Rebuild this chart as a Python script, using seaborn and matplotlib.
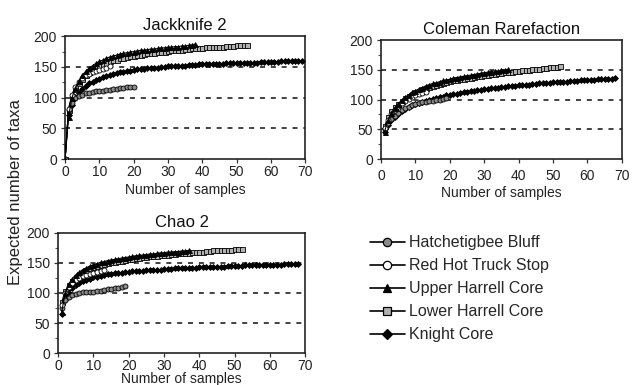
import numpy as np
import pandas as pd
import matplotlib
matplotlib.use("Agg")
import matplotlib.pyplot as plt
import seaborn as sns
from matplotlib.lines import Line2D

sns.set_style("ticks")
plt.rcParams['font.family'] = ['Liberation Sans', 'DejaVu Sans']

series_names = ["Hatchetigbee Bluff", "Red Hot Truck Stop", "Upper Harrell Core",
                "Lower Harrell Core", "Knight Core"]
panel_titles = ["Jackknife 2", "Coleman Rarefaction", "Chao 2"]

# ---- Jackknife 2 (starts at sample 0) ----
jk_hatch = [0, 80, 92, 99, 103, 105, 107, 108, 109, 110, 110, 111, 112, 113, 114, 114, 115, 116, 117, 117, 118]
jk_red = [0, 82, 105, 118, 126, 132, 136, 139, 141, 143, 145, 147, 149, 151]
jk_upper = [0, 68, 100, 115, 127, 136, 143, 148, 152, 156, 159, 161, 164, 166, 168, 169, 171, 172, 173, 174,
            175, 176, 177, 177, 178, 179, 179, 180, 181, 181, 182, 182, 183, 183, 184, 184, 185, 186, 187]
jk_lower = [0, 80, 102, 114, 124, 131, 137, 142, 146, 149, 152, 155, 157, 159, 161, 162, 164, 165, 166, 167,
            168, 169, 170, 171, 172, 172, 173, 174, 175, 175, 176, 177, 177, 178, 178, 179, 179, 180, 180, 181,
            181, 182, 182, 182, 183, 183, 183, 184, 184, 184, 185, 185, 185, 186]
jk_knight = [0, 72, 88, 100, 108, 114, 119, 123, 126, 129, 131, 133, 135, 137, 138, 140, 141, 142, 143, 144,
             145, 146, 147, 147, 148, 148, 149, 149, 150, 150, 151, 151, 151, 152, 152, 152, 153, 153, 153, 154,
             154, 154, 154, 155, 155, 155, 155, 156, 156, 156, 156, 156, 157, 157, 157, 157, 157, 158, 158, 158,
             158, 158, 158, 159, 159, 159, 159, 159, 159, 159]

# ---- Coleman Rarefaction (starts at sample 1) ----
co_hatch = [50, 60, 67, 73, 78, 82, 85, 88, 90, 92, 94, 95, 96, 97, 98, 99, 100, 101, 102]
co_red = [52, 66, 76, 83, 89, 94, 98, 101, 104, 107, 109, 111, 113]
co_upper = [46, 65, 77, 86, 93, 99, 104, 108, 112, 115, 118, 120, 123, 125, 127, 128, 130, 132, 133, 134,
            136, 137, 138, 139, 140, 141, 142, 143, 144, 145, 146, 147, 148, 148, 149, 150, 151]
co_lower = [55, 70, 80, 87, 93, 98, 102, 106, 109, 112, 115, 117, 119, 121, 123, 125, 126, 128, 129, 131,
            132, 133, 134, 135, 136, 137, 138, 139, 140, 141, 142, 143, 143, 144, 145, 146, 146, 147, 148, 148,
            149, 150, 150, 151, 152, 152, 153, 153, 154, 155, 155, 156]
co_knight = [45, 57, 65, 71, 76, 80, 84, 87, 90, 92, 94, 96, 98, 100, 101, 103, 104, 105, 107, 108,
             109, 110, 111, 112, 113, 114, 115, 116, 116, 117, 118, 119, 119, 120, 121, 121, 122, 122, 123, 124,
             124, 125, 125, 126, 126, 127, 127, 128, 128, 129, 129, 129, 130, 130, 131, 131, 131, 132, 132, 133,
             133, 133, 134, 134, 134, 135, 135, 136]

# ---- Chao 2 (starts at sample 1) ----
ch_hatch = [75, 88, 94, 97, 99, 100, 101, 101, 102, 102, 103, 104, 105, 106, 107, 108, 109, 110, 111]
ch_red = [80, 100, 110, 117, 121, 125, 128, 130, 132, 134, 135, 137, 138]
ch_upper = [68, 100, 115, 124, 130, 135, 139, 142, 145, 147, 149, 151, 152, 154, 155, 156, 157, 158, 159, 160,
            161, 162, 163, 163, 164, 165, 165, 166, 167, 167, 168, 168, 169, 169, 170, 170, 171]
ch_lower = [85, 103, 113, 120, 126, 131, 135, 138, 141, 143, 145, 147, 149, 150, 151, 152, 153, 154, 155, 156,
            157, 158, 159, 160, 160, 161, 162, 162, 163, 164, 164, 165, 165, 166, 166, 167, 167, 168, 168, 169,
            169, 170, 170, 171, 171, 171, 172, 172, 172, 173, 173, 174]
ch_knight = [65, 88, 100, 108, 113, 117, 120, 122, 124, 126, 127, 129, 130, 131, 132, 133, 133, 134, 135, 135,
             136, 136, 137, 137, 138, 138, 139, 139, 139, 140, 140, 140, 141, 141, 141, 142, 142, 142, 142, 143,
             143, 143, 143, 144, 144, 144, 144, 145, 145, 145, 145, 145, 146, 146, 146, 146, 146, 147, 147, 147,
             147, 147, 147, 148, 148, 148, 148, 148]

panels = [
    (panel_titles[0], 0, [jk_hatch, jk_red, jk_upper, jk_lower, jk_knight]),
    (panel_titles[1], 1, [co_hatch, co_red, co_upper, co_lower, co_knight]),
    (panel_titles[2], 1, [ch_hatch, ch_red, ch_upper, ch_lower, ch_knight]),
]

styles = {
    "Hatchetigbee Bluff": dict(marker="o", mfc="#8a8a8a"),
    "Red Hot Truck Stop": dict(marker="o", mfc="white"),
    "Upper Harrell Core": dict(marker="^", mfc="black"),
    "Lower Harrell Core": dict(marker="s", mfc="#b0b0b0"),
    "Knight Core": dict(marker="D", mfc="black"),
}
draw_order = ["Knight Core", "Lower Harrell Core", "Hatchetigbee Bluff", "Red Hot Truck Stop", "Upper Harrell Core"]

fig = plt.figure(figsize=(6.32, 3.85), dpi=100)
rects = [
    [0.103, 0.587, 0.380, 0.319],
    [0.603, 0.587, 0.381, 0.309],
    [0.092, 0.083, 0.391, 0.312],
]
xlabelpads = [2.5, 2.5, -1]
xtickpads = [1.5, 4, 1.5]

for (title, start, data), rect, lp, tp in zip(panels, rects, xlabelpads, xtickpads):
    ax = fig.add_axes(rect)
    rows = []
    for name, vals in zip(series_names, data):
        for i, v in enumerate(vals):
            rows.append((name, start + i, v))
    df = pd.DataFrame(rows, columns=["site", "samples", "taxa"])
    for yv in (50, 100, 150):
        ax.axhline(yv, color="#222222", lw=1.2, linestyle=(0, (3, 3.5)), zorder=1)
    for name in draw_order:
        st = styles[name]
        sub = df[df.site == name]
        ms = 3.6 if st["marker"] != "D" else 3.0
        sns.lineplot(data=sub, x="samples", y="taxa", ax=ax, color="black", lw=0.8,
                     marker=st["marker"], markerfacecolor=st["mfc"], markeredgecolor="black",
                     markeredgewidth=0.6, markersize=ms, zorder=3, legend=False)
    ax.set_xlim(0, 70)
    ax.set_ylim(0, 200)
    ax.set_xticks(range(0, 71, 10))
    ax.set_yticks(range(0, 201, 50))
    ax.set_yticks(range(0, 201, 25), minor=True)
    ax.tick_params(axis="both", which="major", labelsize=10, length=3, width=0.9, color="#333333",
                   labelcolor="#222222")
    ax.tick_params(axis="x", which="major", pad=tp)
    ax.tick_params(axis="y", which="major", pad=3)
    ax.tick_params(axis="y", which="minor", length=2, width=0.8, color="#555555")
    ax.set_xlabel("Number of samples", fontsize=10, labelpad=lp, color="#222222")
    ax.set_ylabel("")
    ax.set_title(title, fontsize=12, pad=4.5, color="#111111")
    for sp in ax.spines.values():
        sp.set_visible(True)
        sp.set_linewidth(1.2)
        sp.set_color("#222222")

fig.text(0.024, 0.50, "Expected number of taxa", rotation=90, va="center", ha="center",
         fontsize=12, color="#222222")

handles = []
for name in series_names:
    st = styles[name]
    handles.append(Line2D([0], [0], color="black", lw=1.2, marker=st["marker"],
                          markerfacecolor=st["mfc"], markeredgecolor="black",
                          markeredgewidth=0.9, markersize=6 if st["marker"] != "D" else 5))
fig.legend(handles, series_names, loc="upper left", bbox_to_anchor=(0.575, 0.405),
           frameon=False, fontsize=11.5, handlelength=2.2, handletextpad=0.25,
           labelspacing=0.5, borderaxespad=0)

fig.savefig("out.png", dpi=100)
